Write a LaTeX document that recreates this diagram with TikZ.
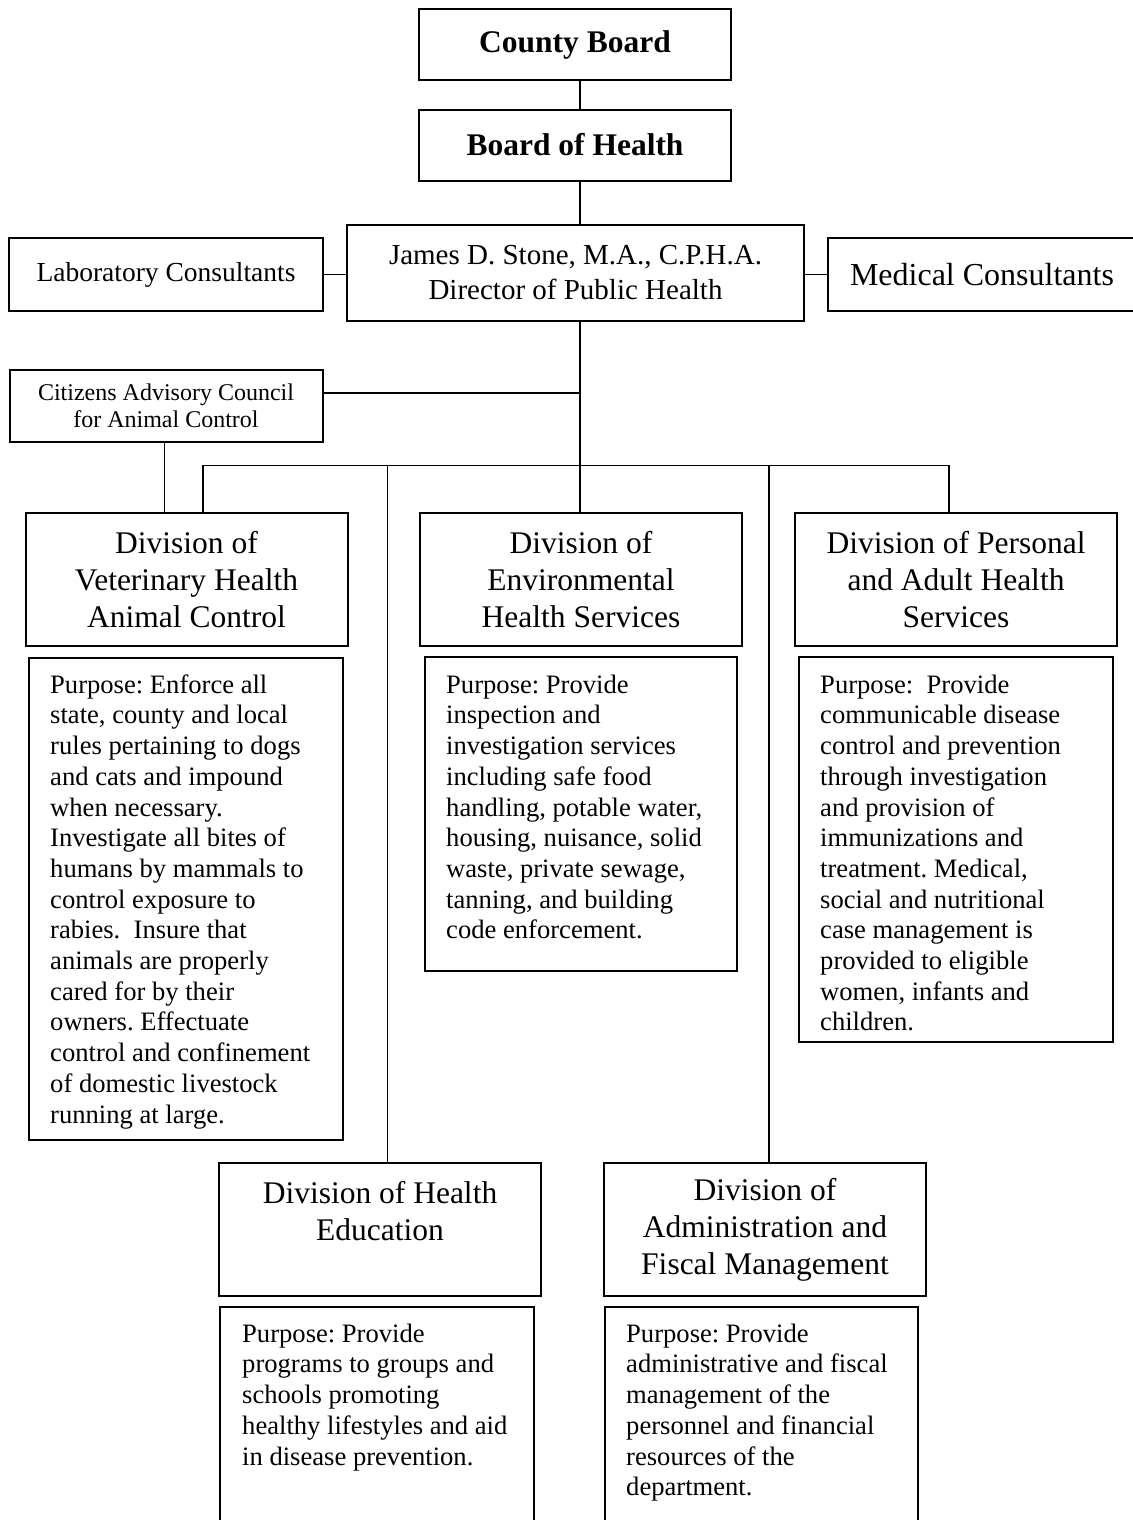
\documentclass[tikz,border=0pt]{standalone}
\usepackage{fontspec}
\setmainfont{Liberation Serif}
\usetikzlibrary{calc}
\frenchspacing
\begin{document}
\begin{tikzpicture}[x=1pt,y=-1pt,
  box/.style={draw, line width=2pt, inner sep=0pt, outer sep=0pt, align=center},
  conn/.style={line width=1.6pt},
  topbox/.style={box, minimum width=312pt, minimum height=71pt, font=\bfseries\fontsize{31.5}{36}\selectfont},
  divbox/.style={box, minimum width=322pt, minimum height=133pt, font=\fontsize{31.5}{37}\selectfont},
  pbox/.style={box, anchor=north west},
  ptext/.style={anchor=north west, inner sep=0pt, align=left, font=\fontsize{26.6}{30.7}\selectfont}
]
\useasboundingbox (0,0) rectangle (1132,1520);
\fill[white] (0,0) rectangle (1132,1520);

% top chain
\node[topbox] (cb) at (575,44.5) {County Board};
\node[topbox] (boh) at (575,145) {Board of Health};
\node[box, minimum width=457pt, minimum height=96pt, font=\fontsize{29}{35}\selectfont] (dir) at (575.5,273) {James D. Stone, M.A., C.P.H.A.\\Director of Public Health};
\node[box, minimum width=314pt, minimum height=73pt, font=\fontsize{27.5}{33}\selectfont] (lab) at (166,274.5) {Laboratory Consultants};
\node[box, anchor=west, minimum width=308pt, minimum height=73pt, font=\fontsize{32}{36}\selectfont, text depth=0pt] (med) at (828,274.5) {Medical Consultants};
\node[box, minimum width=313pt, minimum height=72pt, font=\fontsize{24}{26.7}\selectfont] (cit) at (166,405.5) {Citizens Advisory Council\\for Animal Control};

% divisions
\node[divbox] (vet) at (186.5,579.5) {Division of\\Veterinary Health\\Animal Control};
\node[divbox] (env) at (581,579.5) {Division of\\Environmental\\Health Services};
\node[divbox] (per) at (956,579.5) {Division of Personal\\and Adult Health\\Services};
\node[divbox] (hed) at (380,1229.5) {Division of Health\\Education\\\mbox{}};
\node[divbox] (adm) at (765,1229.5) {Division of\\Administration and\\Fiscal Management};

% purpose boxes
\node[pbox, minimum width=314pt, minimum height=482pt] (vetp) at (29,658) {};
\node[pbox, minimum width=312pt, minimum height=314pt] (envp) at (425,657) {};
\node[pbox, minimum width=314pt, minimum height=385pt] (perp) at (799,657) {};
\node[pbox, minimum width=314pt, minimum height=230pt] (hedp) at (220,1307) {};
\node[pbox, minimum width=313pt, minimum height=230pt] (admp) at (605,1307) {};

\node[ptext] (vett) at ($(vetp.north west)+(21,15)$) {\rule{0pt}{20pt}Purpose: Enforce all\\state, county and local\\rules pertaining to dogs\\and cats and impound\\when necessary.\\Investigate all bites of\\humans by mammals to\\control exposure to\\rabies.\ \ Insure that\\animals are properly\\cared for by their\\owners. Effectuate\\control and confinement\\of domestic livestock\\running at large.};
\node[ptext] (envt) at ($(envp.north west)+(21,16)$) {\rule{0pt}{20pt}Purpose: Provide\\inspection and\\investigation services\\including safe food\\handling, potable water,\\housing, nuisance, solid\\waste, private sewage,\\tanning, and building\\code enforcement.};
\node[ptext] (pert) at ($(perp.north west)+(21,16)$) {\rule{0pt}{20pt}Purpose:\ \ Provide\\communicable disease\\control and prevention\\through investigation\\and provision of\\immunizations and\\treatment. Medical,\\social and nutritional\\case management is\\provided to eligible\\women, infants and\\children.};
\node[ptext] (hedt) at ($(hedp.north west)+(22,15)$) {\rule{0pt}{20pt}Purpose: Provide\\programs to groups and\\schools promoting\\healthy lifestyles and aid\\in disease prevention.};
\node[ptext] (admt) at ($(admp.north west)+(21,15)$) {\rule{0pt}{20pt}Purpose: Provide\\administrative and fiscal\\management of the\\personnel and financial\\resources of the\\department.};

% connector coordinates
\coordinate (tx) at (580,0);
\coordinate (bl) at (203,465.5);
\coordinate (br) at (949,465.5);
\coordinate (hx) at (387.5,465.5);
\coordinate (ax) at (769,465.5);
\coordinate (cj) at (580,393);

\draw[conn] (cb.south -| tx) -- (boh.north -| tx);
\draw[conn] (boh.south -| tx) -- (dir.north -| tx);
\draw[conn] (lab.east) -- (lab.east -| dir.west);
\draw[conn] (dir.east |- med.west) -- (med.west);
\draw[conn] (dir.south -| tx) -- (env.north -| tx);
\draw[conn] (cit.east |- cj) -- (cj);
\draw[conn] ([xshift=-1.5pt]cit.south) -- ([xshift=-1.5pt]cit.south |- vet.north);
\draw[conn] (vet.north -| bl) -- (bl) -- (br) -- (per.north -| br);
\draw[conn] (hx) -- (hx |- hed.north);
\draw[conn] (ax) -- (ax |- adm.north);
\end{tikzpicture}
\end{document}
